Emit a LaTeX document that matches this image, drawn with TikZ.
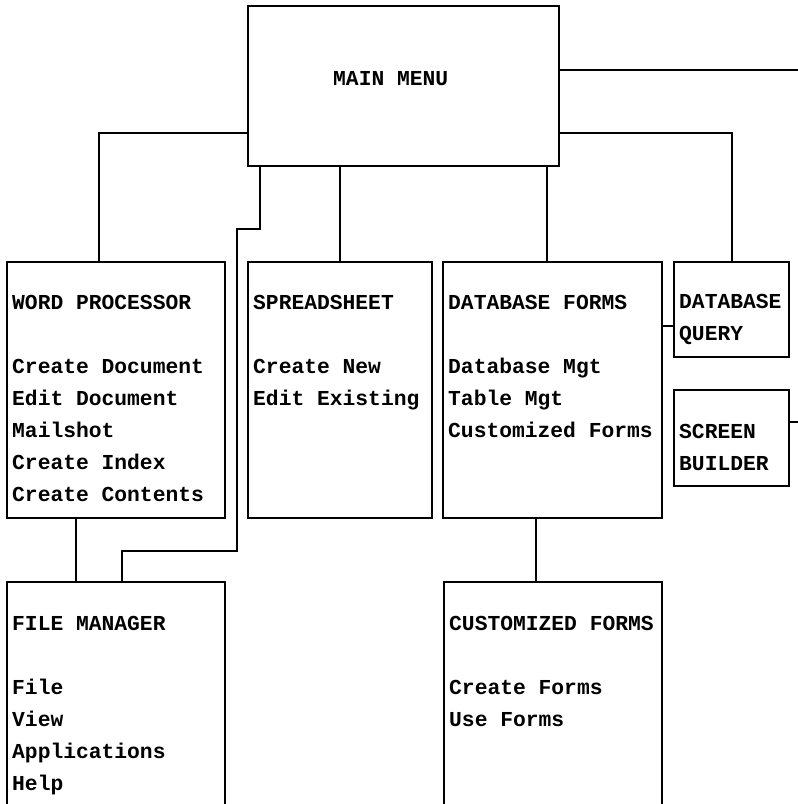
\documentclass[tikz,border=0pt]{standalone}
\usepackage{fontspec}
\setmonofont{Liberation Mono}
\usepackage{tikz}
\usetikzlibrary{positioning,calc}
\tikzset{
  menubox/.style={rectangle, draw=black, fill=white, line width=2pt, inner sep=0pt, outer sep=0pt, anchor=north west},
  menutext/.style={font=\ttfamily\bfseries\fontsize{21.3}{32}\selectfont, align=left, inner sep=0pt, anchor=north west},
  link/.style={line width=2pt, draw=black},
}

\begin{document}
\begin{tikzpicture}[x=1pt,y=-1pt]
  \useasboundingbox (0,0) rectangle (798,804);
  \clip (0,0) rectangle (798,804);

  % boxes
  \node[menubox,minimum width=311,minimum height=160] (main) at (248,6) {};
  \node[menubox,minimum width=218,minimum height=256] (wp) at (7,262) {};
  \node[menubox,minimum width=184,minimum height=256] (ss) at (248,262) {};
  \node[menubox,minimum width=219,minimum height=256] (dbf) at (443,262) {};
  \node[menubox,minimum width=115,minimum height=95] (dq) at (674,262) {};
  \node[menubox,minimum width=115,minimum height=96] (sb) at (674,390) {};
  \node[menubox,minimum width=218,minimum height=260] (fm) at (7,582) {};
  \node[menubox,minimum width=218,minimum height=260] (cf) at (444,582) {};

  % texts
  \node[menutext,anchor=base west] (main-t) at ($(main.north west)+(85,79)$) {MAIN MENU};
  \node[menutext] (wp-t) at ($(wp.north west)+(5,24.6)$)
    {\strut WORD PROCESSOR\\ \\Create Document\\Edit Document\\Mailshot\\Create Index\\Create Contents};
  \node[menutext] (ss-t) at ($(ss.north west)+(5,24.6)$)
    {\strut SPREADSHEET\\ \\Create New\\Edit Existing};
  \node[menutext] (dbf-t) at ($(dbf.north west)+(5,24.6)$)
    {\strut DATABASE FORMS\\ \\Database Mgt\\Table Mgt\\Customized Forms};
  \node[menutext] (dq-t) at ($(dq.north west)+(5,23.6)$)
    {\strut DATABASE\\QUERY};
  \node[menutext] (sb-t) at ($(sb.north west)+(5,25.6)$)
    {\strut SCREEN\\BUILDER};
  \node[menutext] (fm-t) at ($(fm.north west)+(5,25.6)$)
    {\strut FILE MANAGER\\ \\File\\View\\Applications\\Help};
  \node[menutext] (cf-t) at ($(cf.north west)+(5,25.6)$)
    {\strut CUSTOMIZED FORMS\\ \\Create Forms\\Use Forms};

  % connectors
  \coordinate (exit1) at (800,70);
  \coordinate (exit2) at (800,422);
  \coordinate (jog1) at (237,229);
  \coordinate (jog2) at (237,551);
  \draw[link] (exit1 -| main.east) -- (exit1);
  \draw[link] ($(main.south west)+(0,-33)$) -| ($(wp.north west)+(92,0)$);
  \draw[link] ($(main.south west)+(12,0)$) |- (jog1) -- (jog2) -| ($(fm.north west)+(115,0)$);
  \draw[link] ($(main.south west)+(92,0)$) -- ($(ss.north west)+(92,0)$);
  \draw[link] ($(main.south west)+(299,0)$) -- ($(dbf.north west)+(104,0)$);
  \draw[link] ($(main.south east)+(0,-33)$) -| (dq.north);
  \draw[link] ($(dbf.north east)+(0,64)$) -- ($(dq.north west)+(0,64)$);
  \draw[link] (exit2 -| sb.east) -- (exit2);
  \draw[link] ($(wp.south west)+(69,0)$) -- ($(fm.north west)+(69,0)$);
  \draw[link] ($(dbf.south west)+(93,0)$) -- ($(cf.north west)+(92,0)$);
\end{tikzpicture}
\end{document}
